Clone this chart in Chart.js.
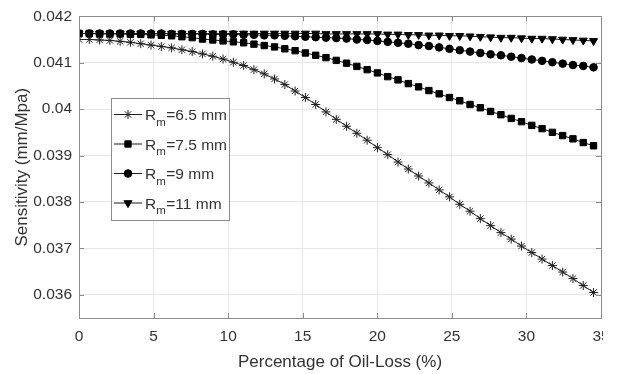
<!DOCTYPE html>
<html>
<head>
    <title>Sensitivity vs Oil-Loss</title>
    <script src="https://cdn.jsdelivr.net/npm/chart.js"></script>
    <style>
        html, body { margin: 0; padding: 0; background: #fff; }
        #wrap { width: 623px; height: 374px; }
    </style>
</head>
<body>
<div id="wrap"><canvas id="sensChart" width="623" height="374"></canvas></div>
<script>
    // percentage of oil-loss (x)
    const oilLoss = [0, 0.69, 1.38, 2.07, 2.76, 3.45, 4.14, 4.83, 5.52, 6.21,
        6.9, 7.59, 8.28, 8.97, 9.66, 10.35, 11.04, 11.73, 12.42, 13.11,
        13.8, 14.49, 15.18, 15.87, 16.56, 17.25, 17.94, 18.63, 19.32, 20.01,
        20.7, 21.39, 22.08, 22.77, 23.46, 24.15, 24.84, 25.53, 26.22, 26.91,
        27.6, 28.29, 28.98, 29.67, 30.36, 31.05, 31.74, 32.43, 33.12, 33.81, 34.5];

    // sensitivity (mm/Mpa) for each Rm
    const rm65 = [0.04150, 0.04150, 0.04149, 0.04148, 0.04146, 0.04144, 0.04141, 0.04138, 0.04135, 0.04132,
        0.04128, 0.04124, 0.04119, 0.04114, 0.04108, 0.04101, 0.04094, 0.04085, 0.04076, 0.04065,
        0.04053, 0.04039, 0.04025, 0.04010, 0.03994, 0.03978, 0.03963, 0.03948, 0.03933, 0.03917,
        0.03902, 0.03886, 0.03871, 0.03856, 0.03841, 0.03826, 0.03811, 0.03795, 0.03780, 0.03764,
        0.03749, 0.03734, 0.03720, 0.03705, 0.03691, 0.03677, 0.03663, 0.03649, 0.03635, 0.03620, 0.03605];
    const rm75 = [0.04163, 0.04163, 0.04162, 0.04162, 0.04162, 0.04161, 0.04161, 0.04160, 0.04159, 0.04158,
        0.04156, 0.04154, 0.04151, 0.04149, 0.04147, 0.04145, 0.04143, 0.04140, 0.04137, 0.04134,
        0.04130, 0.04126, 0.04121, 0.04116, 0.04111, 0.04105, 0.04099, 0.04092, 0.04085, 0.04078,
        0.04070, 0.04063, 0.04055, 0.04048, 0.04040, 0.04033, 0.04025, 0.04018, 0.04010, 0.04003,
        0.03995, 0.03988, 0.03980, 0.03973, 0.03965, 0.03958, 0.03950, 0.03943, 0.03936, 0.03928, 0.03921];
    const rm9 = [0.04163, 0.04163, 0.04163, 0.04163, 0.04163, 0.04163, 0.04163, 0.04163, 0.04163, 0.04162,
        0.04162, 0.04162, 0.04162, 0.04161, 0.04161, 0.04161, 0.04160, 0.04160, 0.04159, 0.04159,
        0.04158, 0.04157, 0.04156, 0.04155, 0.04154, 0.04153, 0.04152, 0.04150, 0.04149, 0.04147,
        0.04145, 0.04143, 0.04141, 0.04138, 0.04136, 0.04133, 0.04130, 0.04127, 0.04124, 0.04121,
        0.04118, 0.04116, 0.04113, 0.04110, 0.04107, 0.04104, 0.04101, 0.04098, 0.04095, 0.04093, 0.04090];
    const rm11 = [0.04163, 0.04163, 0.04163, 0.04163, 0.04163, 0.04163, 0.04163, 0.04163, 0.04163, 0.04163,
        0.04163, 0.04163, 0.04163, 0.04163, 0.04163, 0.04163, 0.04163, 0.04163, 0.04163, 0.04163,
        0.04163, 0.04163, 0.04163, 0.04163, 0.04162, 0.04162, 0.04162, 0.04162, 0.04162, 0.04162,
        0.04161, 0.04161, 0.04160, 0.04160, 0.04159, 0.04159, 0.04158, 0.04158, 0.04157, 0.04156,
        0.04155, 0.04154, 0.04154, 0.04153, 0.04152, 0.04152, 0.04151, 0.04150, 0.04149, 0.04148, 0.04147];

    // legend text after the "R" + subscript "m"
    const seriesNames = ['=6.5 mm', '=7.5 mm', '=9 mm', '=11 mm'];

    // tick values
    const xTicks = [0, 5, 10, 15, 20, 25, 30, 35];
    const yTicks = [0.036, 0.037, 0.038, 0.039, 0.04, 0.041, 0.042];

    const FONT = "'Liberation Sans', Arial, sans-serif";
    const TEXT = '#333333';
    const AXIS = '#8c8c8c';

    // marker styles per series
    const markers = [
        { pointStyle: 'star', radius: 4.5, rotation: 0 },
        { pointStyle: 'rect', radius: 4.5, rotation: 0 },
        { pointStyle: 'circle', radius: 3.8, rotation: 0 },
        { pointStyle: 'triangle', radius: 4.6, rotation: 180 }
    ];

    function toPoints(ys) {
        return oilLoss.map((x, i) => ({ x: x, y: ys[i] }));
    }

    const seriesData = [rm65, rm75, rm9, rm11];
    const datasets = seriesData.map((ys, i) => ({
        label: 'Rm' + seriesNames[i],
        data: toPoints(ys),
        borderColor: '#1a1a1a',
        borderWidth: 1,
        backgroundColor: '#000',
        pointBorderColor: i === 0 ? '#222' : '#000',
        pointBackgroundColor: '#000',
        pointBorderWidth: 1,
        pointStyle: markers[i].pointStyle,
        pointRadius: markers[i].radius,
        pointRotation: markers[i].rotation,
        tension: 0,
        order: 3 - i
    }));

    // box round the plot, inward ticks and the legend
    const boxPlugin = {
        id: 'matlabBox',
        afterDraw(chart) {
            const ctx = chart.ctx;
            const a = chart.chartArea;
            const xs = chart.scales.x;
            const ys = chart.scales.y;
            ctx.save();
            // the source figure is cut just right of the axes box
            ctx.fillStyle = '#fff';
            ctx.fillRect(Math.round(a.right) + 2, a.bottom + 1, chart.width, chart.height);

            ctx.strokeStyle = AXIS;
            ctx.lineWidth = 1;
            ctx.strokeRect(Math.round(a.left) + 0.5, Math.round(a.top) + 0.5,
                Math.round(a.right - a.left), Math.round(a.bottom - a.top));
            ctx.beginPath();
            xTicks.forEach(v => {
                const px = Math.round(xs.getPixelForValue(v)) + 0.5;
                ctx.moveTo(px, a.bottom); ctx.lineTo(px, a.bottom - 5);
                ctx.moveTo(px, a.top); ctx.lineTo(px, a.top + 5);
            });
            yTicks.forEach(v => {
                const py = Math.round(ys.getPixelForValue(v)) + 0.5;
                ctx.moveTo(a.left, py); ctx.lineTo(a.left + 5, py);
                ctx.moveTo(a.right, py); ctx.lineTo(a.right - 5, py);
            });
            ctx.stroke();

            // legend
            const lx = 111, ly = 98, lw = 118, lh = 122;
            ctx.fillStyle = '#fff';
            ctx.fillRect(lx, ly, lw, lh);
            ctx.strokeStyle = '#8c8c8c';
            ctx.strokeRect(lx + 0.5, ly + 0.5, lw, lh);
            const draw = Chart.helpers && Chart.helpers.drawPoint;
            seriesNames.forEach((name, i) => {
                const cy = ly + 16.5 + i * 29.5;
                ctx.strokeStyle = '#1a1a1a';
                ctx.lineWidth = 1;
                ctx.beginPath();
                ctx.moveTo(lx + 3, cy); ctx.lineTo(lx + 31, cy);
                ctx.stroke();
                ctx.fillStyle = '#000';
                ctx.strokeStyle = i === 0 ? '#222' : '#000';
                if (draw) {
                    draw(ctx, {
                        pointStyle: markers[i].pointStyle,
                        radius: markers[i].radius,
                        rotation: markers[i].rotation,
                        borderWidth: 1
                    }, lx + 17, cy);
                }
                ctx.fillStyle = TEXT;
                ctx.textBaseline = 'alphabetic';
                ctx.textAlign = 'left';
                ctx.font = '15.5px ' + FONT;
                const base = cy + 5.5;
                let tx = lx + 34;
                ctx.fillText('R', tx, base);
                tx += ctx.measureText('R').width;
                ctx.font = '11.5px ' + FONT;
                ctx.fillText('m', tx, base + 5.5);
                tx += ctx.measureText('m').width + 0.5;
                ctx.font = '15.5px ' + FONT;
                ctx.fillText(name, tx, base);
            });
            ctx.restore();
        }
    };

    const config = {
        type: 'line',
        data: { datasets: datasets },
        options: {
            responsive: false,
            animation: false,
            layout: { padding: { top: 10, right: 22, left: 0, bottom: 0 } },
            plugins: {
                legend: { display: false },
                tooltip: { enabled: false }
            },
            scales: {
                x: {
                    type: 'linear',
                    min: 0,
                    max: 35,
                    afterBuildTicks: s => { s.ticks = xTicks.map(v => ({ value: v })); },
                    afterFit: s => { s.height = 56; },
                    grid: { color: '#e6e6e6', drawTicks: false },
                    border: { display: false },
                    ticks: {
                        color: TEXT,
                        padding: 9,
                        maxRotation: 0,
                        font: { family: FONT, size: 15.5 },
                        callback: v => String(v)
                    },
                    title: {
                        display: true,
                        text: 'Percentage of Oil-Loss (%)',
                        color: TEXT,
                        padding: { top: 0, bottom: 1 },
                        font: { family: FONT, size: 17 }
                    }
                },
                y: {
                    type: 'linear',
                    min: 0.0355,
                    max: 0.042,
                    afterBuildTicks: s => { s.ticks = yTicks.map(v => ({ value: v })); },
                    afterFit: s => { s.width = 79; },
                    grid: { color: '#e6e6e6', drawTicks: false },
                    border: { display: false },
                    ticks: {
                        color: TEXT,
                        padding: 7,
                        font: { family: FONT, size: 15.5 },
                        callback: v => String(Math.round(v * 1000) / 1000)
                    },
                    title: {
                        display: true,
                        text: 'Sensitivity (mm/Mpa)',
                        color: TEXT,
                        padding: { top: 12, bottom: 0 },
                        font: { family: FONT, size: 17 }
                    }
                }
            }
        },
        plugins: [boxPlugin]
    };

    const ctx = document.getElementById('sensChart').getContext('2d');
    new Chart(ctx, config);
</script>
</body>
</html>
